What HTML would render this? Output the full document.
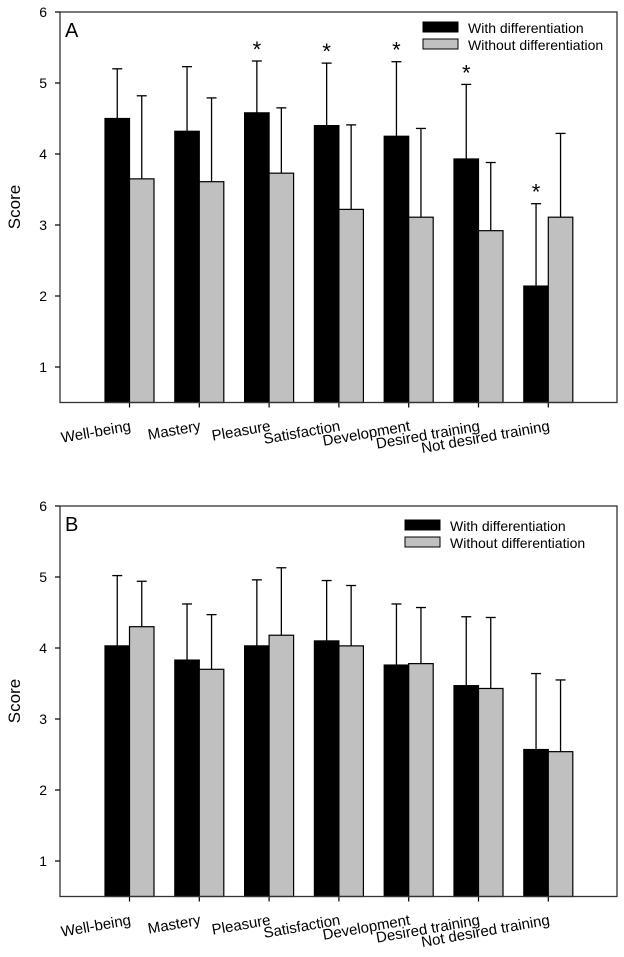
<!DOCTYPE html>
<html><head><meta charset="utf-8"><style>
html,body{margin:0;padding:0;background:#fff;}
svg{display:block;font-family:"Liberation Sans",Arial,sans-serif;}
</style></head><body>
<svg id="chart" width="624" height="957" viewBox="0 0 624 957"></svg>
<script>
const categories = ["Well-being","Mastery","Pleasure","Satisfaction","Development","Desired training","Not desired training"];
const yTicks = [1,2,3,4,5,6];
const seriesNames = ["With differentiation","Without differentiation"];
const aWith = [4.5,4.32,4.58,4.4,4.25,3.93,2.14];
const aWithErr = [5.2,5.23,5.31,5.28,5.3,4.98,3.3];
const aWithout = [3.65,3.61,3.73,3.22,3.11,2.92,3.11];
const aWithoutErr = [4.82,4.79,4.65,4.41,4.36,3.88,4.29];
const aStars = [false,false,true,true,true,true,true];
const bWith = [4.03,3.83,4.03,4.1,3.76,3.47,2.57];
const bWithErr = [5.02,4.62,4.96,4.95,4.62,4.44,3.64];
const bWithout = [4.3,3.7,4.18,4.03,3.78,3.43,2.54];
const bWithoutErr = [4.94,4.47,5.13,4.88,4.57,4.43,3.55];
const bStars = [false,false,false,false,false,false,false];

const NS="http://www.w3.org/2000/svg";
const svg=document.getElementById('chart');
function mk(tag,attrs,parent){const e=document.createElementNS(NS,tag);for(const k in attrs)e.setAttribute(k,attrs[k]);(parent||svg).appendChild(e);return e;}

function panel(opt){
  const g=mk('g',{});
  
  
  const L=60,R=617,top=opt.top,unit=71;
  const y=v=>top+(6-v)*unit;
  const bottom=y(0.5);
  const x=i=>129.5+i*69.8;
  const bw=24.5;
  for(let i=0;i<categories.length;i++){
    const cx=x(i);
    [[opt.w,opt.we,'#000',cx-bw,'bar-with'],[opt.wo,opt.woe,'#c0c0c0',cx,'bar-without']].forEach(s=>{
      const v=s[0][i],e=s[1][i],xb=s[3];
      const eb=mk('line',{x1:xb+bw/2,x2:xb+bw/2,y1:y(v),y2:y(e),stroke:'#000','stroke-width':1.3},g);
      
      
      const cap=mk('line',{x1:xb+bw/2-5,x2:xb+bw/2+5,y1:y(e),y2:y(e),stroke:'#000','stroke-width':1.3},g);
      
      
      const r=mk('rect',{x:xb,y:y(v),width:bw,height:bottom-y(v),fill:s[2],stroke:'#000','stroke-width':1.2},g);
      
      
    });
    if(opt.stars[i]){
      const st=mk('text',{x:cx-bw/2,y:y(opt.we[i])-4,'text-anchor':'middle','font-size':22},g);
      st.textContent='*';
      
      
    }
    const t=mk('line',{x1:cx,x2:cx,y1:bottom,y2:bottom+5,stroke:'#000','stroke-width':1.2},g);
    
    
    const lx=cx+2, ly=bottom+28;
    const lb=mk('text',{x:lx,y:ly,'text-anchor':'end','font-size':15,transform:`rotate(-10 ${lx} ${ly})`},g);
    lb.textContent=categories[i];
    
    
  }
  const fr=mk('rect',{x:L,y:top,width:R-L,height:bottom-top,fill:'none',stroke:'#333','stroke-width':1.3},g);
  
  
  yTicks.forEach(v=>{
    const tl=mk('line',{x1:L-5,x2:L,y1:y(v),y2:y(v),stroke:'#000','stroke-width':1.2},g);
    
    
    const tt=mk('text',{x:L-13,y:y(v)+5,'text-anchor':'end','font-size':14},g);
    tt.textContent=v;
    
    
  });
  const yl=mk('text',{x:20,y:opt.top+195,'text-anchor':'middle','font-size':17,transform:`rotate(-90 20 ${opt.top+195})`},g);
  yl.textContent='Score';
  
  
  const pl=mk('text',{x:65,y:top+25,'font-size':20},g);
  pl.textContent=opt.letter;
  
  
  const lx=opt.lx,ly=opt.ly;
  [['#000',0],['#c0c0c0',1]].forEach(s=>{
    const sw=mk('rect',{x:lx,y:ly+s[1]*17,width:35,height:10,fill:s[0],stroke:'#000','stroke-width':1},g);
    
    
    const lt=mk('text',{x:lx+45,y:ly+s[1]*17+11,'font-size':14},g);
    lt.textContent=seriesNames[s[1]];
    
    
  });
}
panel({name:'panel-a',letter:'A',top:12,w:aWith,we:aWithErr,wo:aWithout,woe:aWithoutErr,stars:aStars,lx:423,ly:22});
panel({name:'panel-b',letter:'B',top:506,w:bWith,we:bWithErr,wo:bWithout,woe:bWithoutErr,stars:bStars,lx:405,ly:520});
</script>
</body></html>
